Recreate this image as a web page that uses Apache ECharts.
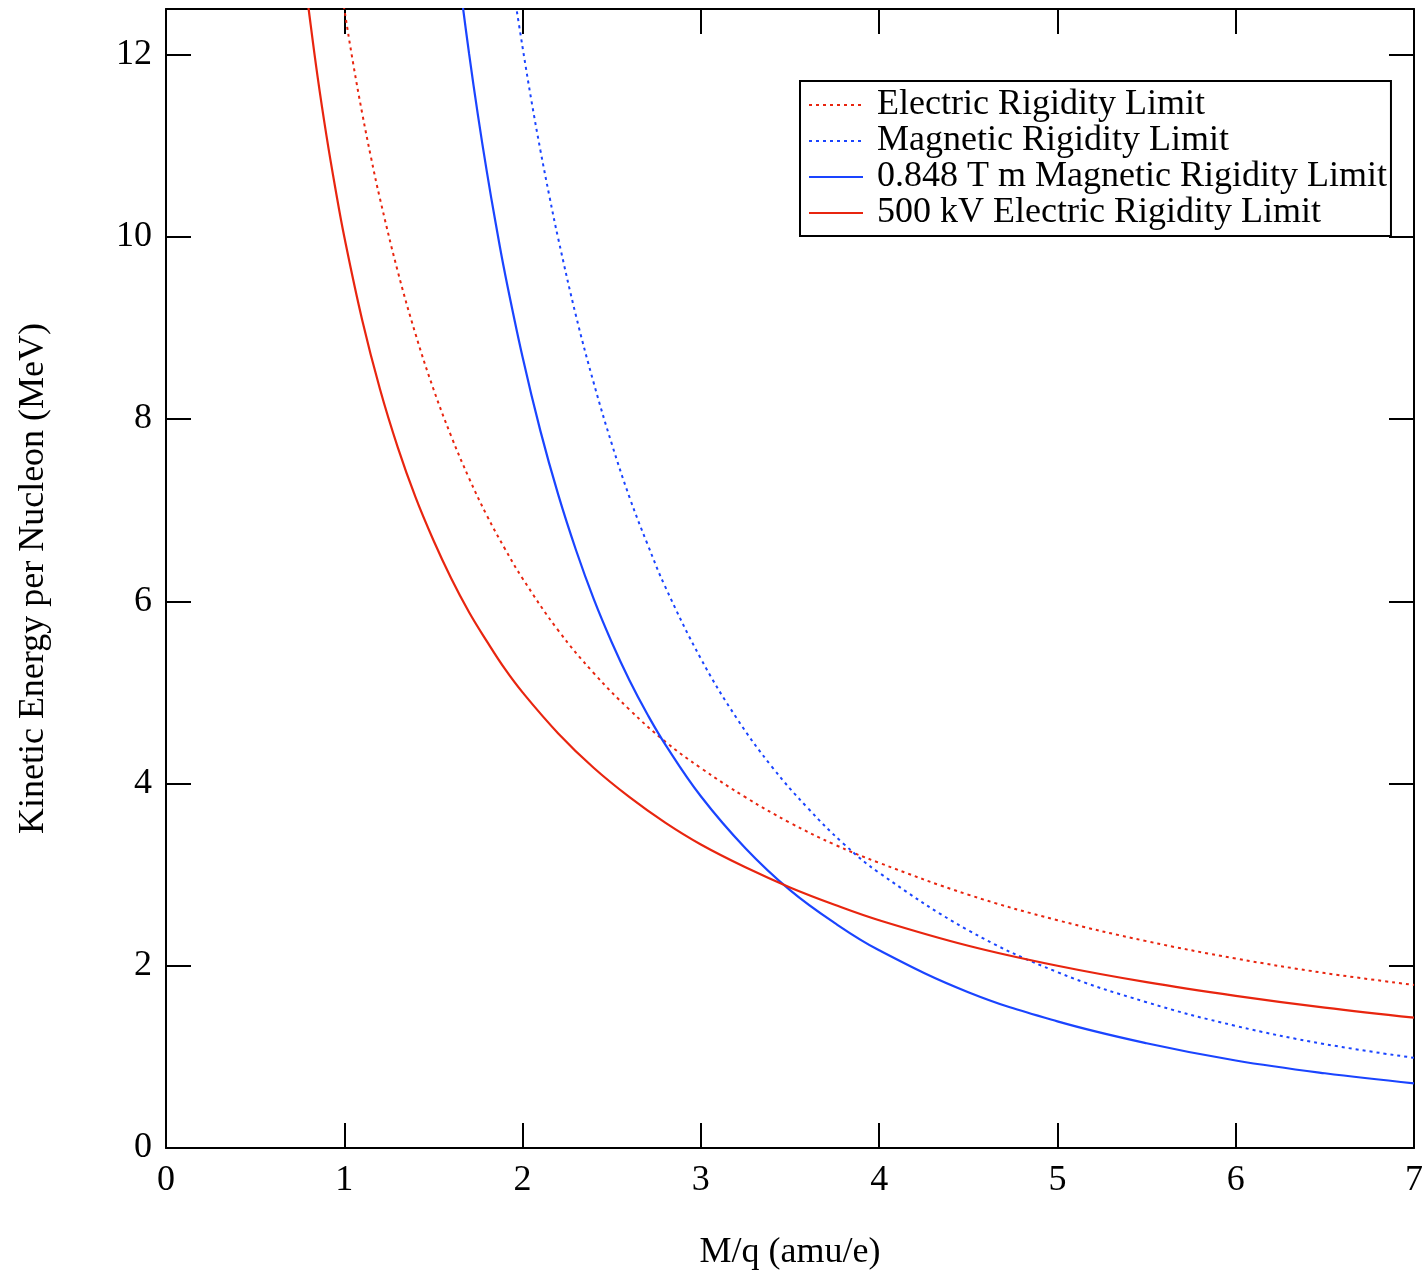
<!DOCTYPE html>
<html>
<head>
<meta charset="utf-8">
<script src="https://cdn.jsdelivr.net/npm/echarts@6/dist/echarts.min.js"></script>
<style>
html,body{margin:0;padding:0;background:#fff;}
#chart{width:1426px;height:1274px;}
</style>
</head>
<body>
<div id="chart"></div>
<script>
// Series names (legend order)
const seriesNames = [
  'Electric Rigidity Limit',
  'Magnetic Rigidity Limit',
  '0.848 T m Magnetic Rigidity Limit',
  '500 kV Electric Rigidity Limit'
];

// Electric Rigidity Limit (red dotted)
const elecX = [0.98,1.0,1.05,1.1,1.15,1.2,1.3,1.4,1.5,1.6,1.7,1.8,1.9,2.0,2.2,2.4,2.6,2.8,3.0,3.25,3.5,3.75,4.0,4.5,5.0,5.5,6.0,6.5,7.0];
const elecY = [12.76,12.5,11.9,11.36,10.87,10.42,9.62,8.93,8.33,7.81,7.35,6.94,6.58,6.25,5.68,5.21,4.81,4.46,4.17,3.85,3.57,3.33,3.13,2.78,2.5,2.27,2.08,1.92,1.79];

// Magnetic Rigidity Limit (blue dotted)
const magX = [1.95,2.0,2.05,2.1,2.15,2.2,2.3,2.4,2.5,2.6,2.7,2.8,3.0,3.2,3.4,3.6,3.8,4.0,4.5,5.0,5.5,6.0,6.5,7.0];
const magY = [12.70,12.08,11.49,10.95,10.45,9.98,9.13,8.39,7.73,7.14,6.63,6.16,5.37,4.72,4.18,3.73,3.34,3.02,2.39,1.93,1.60,1.34,1.14,0.99];

// 0.848 T m Magnetic Rigidity Limit (blue solid)
const mag848X = [1.65,1.7,1.75,1.8,1.85,1.9,2.0,2.1,2.2,2.3,2.4,2.5,2.6,2.7,2.8,3.0,3.25,3.5,3.75,4.0,4.5,5.0,5.5,6.0,6.5,7.0];
const mag848Y = [12.75,12.01,11.33,10.71,10.14,9.61,8.68,7.87,7.17,6.56,6.02,5.55,5.13,4.76,4.43,3.86,3.29,2.83,2.47,2.17,1.71,1.39,1.15,0.96,0.82,0.71];

// 500 kV Electric Rigidity Limit (red solid)
const el500X = [0.78,0.8,0.85,0.9,0.95,1.0,1.1,1.2,1.3,1.4,1.5,1.6,1.7,1.8,1.9,2.0,2.2,2.4,2.6,2.8,3.0,3.25,3.5,3.75,4.0,4.5,5.0,5.5,6.0,6.5,7.0];
const el500Y = [12.82,12.5,11.76,11.11,10.53,10.0,9.09,8.33,7.69,7.14,6.67,6.25,5.88,5.56,5.26,5.0,4.55,4.17,3.85,3.57,3.33,3.08,2.86,2.67,2.5,2.22,2.0,1.82,1.67,1.54,1.43];

const RED = '#e8250f';
const BLUE = '#1a44ff';
const FONT = 'Liberation Serif';

function pairs(xs, ys){ return xs.map((x,i)=>[x, ys[i]]); }

const chart = echarts.init(document.getElementById('chart'), null, {renderer:'canvas'});

const axisLine = {show:true, onZero:false, lineStyle:{color:'#000', width:2}};
const tick = {show:true, inside:true, length:25, lineStyle:{color:'#000', width:2}};

function lineSeries(name, data, color, dotted){
  return {
    name, type:'line', data, smooth:0.4, symbol:'none', clip:true,
    lineStyle:{color, width: dotted ? 2 : 2.2, type: dotted ? [3,4] : 'solid'},
    itemStyle:{color},
    xAxisIndex:0, yAxisIndex:0, z:3
  };
}

chart.setOption({
  animation:false,
  backgroundColor:'#fff',
  textStyle:{fontFamily:FONT, color:'#000'},
  grid:{left:166, right:12, top:9, bottom:126, containLabel:false, outerBoundsMode:'none'},
  legend:{
    orient:'vertical', left:800, top:81,
    data:seriesNames,
    backgroundColor:'#fff',
    borderColor:'#000', borderWidth:2,
    padding:[6,4,5,8],
    itemGap:0, itemWidth:54, itemHeight:36,
    itemStyle:{color:'rgba(0,0,0,0)', borderColor:'rgba(0,0,0,0)', borderWidth:0},
    textStyle:{fontFamily:FONT, fontSize:36, color:'#000', lineHeight:36, padding:[0,0,0,9]},
    selectedMode:false
  },
  xAxis:[
    {type:'value', position:'bottom', min:0, max:7, interval:1,
     name:'M/q (amu/e)', nameLocation:'middle', nameGap:87,
     nameTextStyle:{fontFamily:FONT, fontSize:36, color:'#000'},
     axisLine, axisTick:tick, splitLine:{show:false},
     axisLabel:{fontFamily:FONT, fontSize:36, color:'#000', margin:15}},
    {type:'value', position:'top', min:0, max:7, interval:1,
     axisLine, axisTick:tick, splitLine:{show:false}, axisLabel:{show:false}}
  ],
  yAxis:[
    {type:'value', position:'left', min:0, max:12.5, interval:2,
     name:'Kinetic Energy per Nucleon (MeV)', nameLocation:'middle', nameGap:114,
     nameTextStyle:{fontFamily:FONT, fontSize:36, color:'#000'},
     axisLine, axisTick:tick, splitLine:{show:false},
     axisLabel:{fontFamily:FONT, fontSize:36, color:'#000', margin:14, showMaxLabel:false}},
    {type:'value', position:'right', min:0, max:12.5, interval:2,
     axisLine, axisTick:tick, splitLine:{show:false}, axisLabel:{show:false}}
  ],
  series:[
    lineSeries(seriesNames[0], pairs(elecX, elecY), RED, true),
    lineSeries(seriesNames[1], pairs(magX, magY), BLUE, true),
    lineSeries(seriesNames[2], pairs(mag848X, mag848Y), BLUE, false),
    lineSeries(seriesNames[3], pairs(el500X, el500Y), RED, false)
  ]
});
</script>
</body>
</html>
